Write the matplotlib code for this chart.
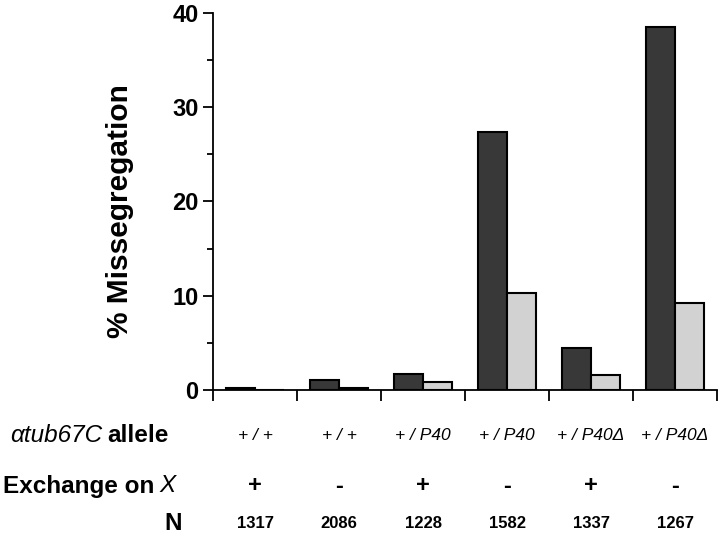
import numpy as np
import matplotlib
matplotlib.use('Agg')
from matplotlib import pyplot as plt
from matplotlib.transforms import blended_transform_factory, offset_copy

plt.rcParams['font.family'] = ['Liberation Sans', 'DejaVu Sans']

# data
alleles = ['+ / +', '+ / +', '+ / P40', '+ / P40', '+ / P40\u0394', '+ / P40\u0394']
exchange = ['+', '-', '+', '-', '+', '-']
n_counts = ['1317', '2086', '1228', '1582', '1337', '1267']
dark_vals = [0.2, 1.1, 1.7, 27.4, 4.4, 38.5]
light_vals = [0.05, 0.2, 0.9, 10.3, 1.6, 9.2]

fig = plt.figure(figsize=(7.2, 5.43), dpi=100, facecolor='w')
ax = fig.add_axes([213/720, 1-390/543, 504/720, 377.3/543])

x = np.arange(len(dark_vals))
w = 0.345
ax.bar(x + 0.5 - w/2, dark_vals, width=w, color='#383838', edgecolor='black', linewidth=1.5)
ax.bar(x + 0.5 + w/2, light_vals, width=w, color='#d2d2d2', edgecolor='black', linewidth=1.5)

ax.set_xlim(0, 6)
ax.set_ylim(0, 40)
for s in ['top', 'right']:
    ax.spines[s].set_visible(False)
for s in ['left', 'bottom']:
    ax.spines[s].set_linewidth(1.3)
ax.set_xticks(np.arange(0, 7))
ax.set_xticklabels([])
ax.set_yticks([0, 10, 20, 30, 40])
ax.set_yticks([5, 15, 25, 35], minor=True)
ax.tick_params(axis='x', direction='out', length=8, width=1.3)
ax.tick_params(axis='y', which='major', direction='out', length=7, width=1.3, pad=3.5,
               labelsize=17)
ax.tick_params(axis='y', which='minor', direction='out', length=4.5, width=1.3)
for lab in ax.get_yticklabels():
    lab.set_fontweight('bold')

fig.text(120/720, 1-211/543, '% Missegregation', rotation=90, ha='center', va='center',
         fontsize=21.5, fontweight='bold')

trans = blended_transform_factory(ax.transData, fig.transFigure)
y_allele = 1-435/543
y_exch = 1-486/543
y_n = 1-524/543

for i in range(len(alleles)):
    ax.text(i + 0.5, y_allele, alleles[i], transform=trans, ha='center', va='center',
            fontsize=12.5, style='italic', clip_on=False)
    ax.text(i + 0.5, y_exch, exchange[i], transform=trans, ha='center', va='center',
            fontsize=17, fontweight='bold', clip_on=False)
    ax.text(i + 0.5, y_n, n_counts[i], transform=trans, ha='center', va='center',
            fontsize=12, fontweight='bold', clip_on=False)

renderer = fig.canvas.get_renderer()


def two_part(x0, y, first, second, first_kw, second_kw, gap=5):
    t1 = fig.text(x0, y, first, ha='left', va='center', fontsize=17.5, **first_kw)
    bb = t1.get_window_extent(renderer=renderer)
    fig.text((bb.x1 + gap) / fig.bbox.width, y, second, ha='left', va='center',
             fontsize=17.5, **second_kw)


two_part(10/720, y_allele, '\u03b1tub67C', 'allele', {'style': 'italic'}, {'fontweight': 'bold'})
two_part(3/720, y_exch, 'Exchange on', 'X', {'fontweight': 'bold'}, {'style': 'italic'})
fig.text(182/720, y_n, 'N', ha='right', va='center', fontsize=17.5, fontweight='bold')

fig.savefig('out.png', dpi=100)
